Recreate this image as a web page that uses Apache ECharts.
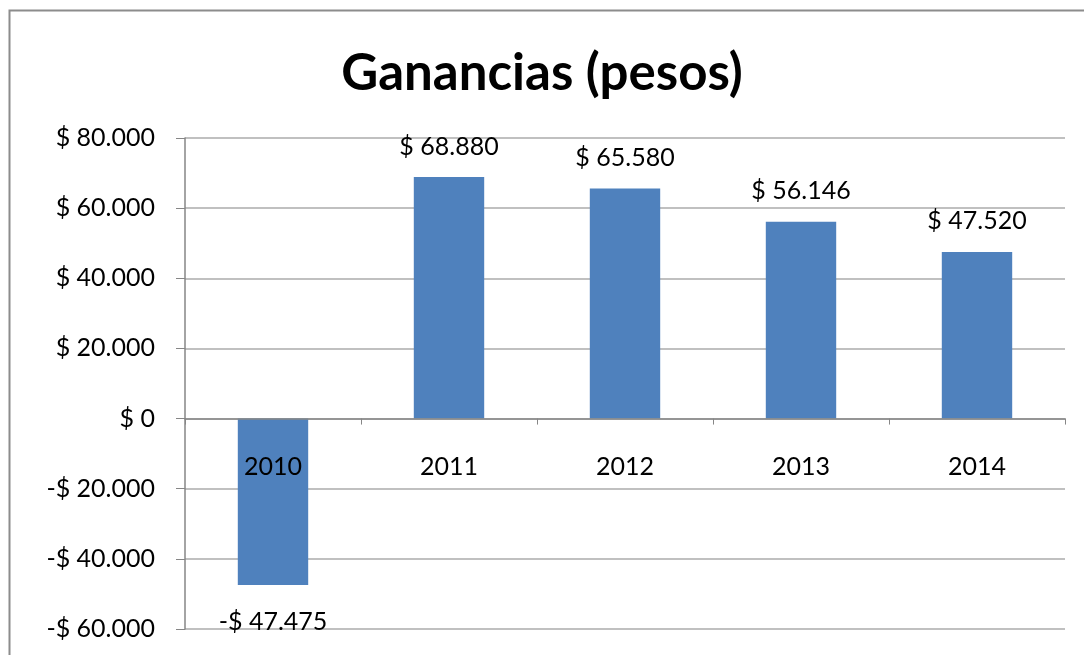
<!DOCTYPE html>
<html>
<head>
<meta charset="utf-8">
<script src="https://cdn.jsdelivr.net/npm/echarts@6/dist/echarts.min.js"></script>
<style>
  html, body { margin: 0; padding: 0; background: #fff; }
  #chart { width: 1084px; height: 655px; }
</style>
</head>
<body>
<div id="chart"></div>
<script>
// Ganancias anuales (pesos)
const years = ["2010", "2011", "2012", "2013", "2014"];
const ganancias = [-47475, 68880, 65580, 56146, 47520];

const Y_MIN = -60000;
const Y_MAX = 80000;
const Y_STEP = 20000;

const FONT = "Lato, 'Noto Sans', sans-serif";

// 68880 -> "$ 68.880", -47475 -> "-$ 47.475"
function pesos(v) {
  const abs = Math.abs(v).toString().replace(/\B(?=(\d{3})+(?!\d))/g, ".");
  return (v < 0 ? "-$ " : "$ ") + abs;
}

const GRID = { left: 185, right: 19, top: 138, bottom: 26 };
const plotH = 655 - GRID.top - GRID.bottom;
// distance of the zero line above the plot bottom
const zeroOffset = plotH * (0 - Y_MIN) / (Y_MAX - Y_MIN);

const chart = echarts.init(document.getElementById("chart"));

chart.setOption({
  animation: false,
  backgroundColor: "#fff",
  title: {
    text: "Ganancias (pesos)",
    left: "center",
    top: 43,
    textStyle: { fontFamily: FONT, fontSize: 51, fontWeight: "bold", color: "#000" }
  },
  graphic: [
    {
      type: "rect",
      shape: { x: 9.5, y: 10.5, width: 1100, height: 700 },
      style: { fill: "none", stroke: "#8c8c8c", lineWidth: 2 },
      silent: true
    }
  ],
  grid: Object.assign({ outerBoundsMode: "none", containLabel: false }, GRID),
  xAxis: {
    type: "category",
    data: years,
    z: 5,
    position: "bottom",
    offset: -zeroOffset,
    axisLine: { onZero: false, lineStyle: { color: "#868686", width: 1.5 } },
    axisTick: { show: true, length: 6, lineStyle: { color: "#868686" } },
    axisLabel: { margin: 36, fontFamily: FONT, fontSize: 25, color: "#000" }
  },
  yAxis: {
    type: "value",
    min: Y_MIN,
    max: Y_MAX,
    interval: Y_STEP,
    axisLine: { show: true, lineStyle: { color: "#868686", width: 1.5 } },
    axisTick: { show: true, length: 9, lineStyle: { color: "#868686" } },
    splitLine: { lineStyle: { color: "#c0c0c0", width: 2 } },
    axisLabel: {
      margin: 30,
      fontFamily: FONT,
      fontSize: 25,
      color: "#000",
      formatter: v => (v === 0 ? "$ 0" : pesos(v))
    }
  },
  series: [
    {
      type: "bar",
      barWidth: "40%",
      itemStyle: { color: "#4f81bd" },
      data: ganancias.map(v => ({
        value: v,
        label: v < 0 ? { position: "bottom", distance: 24 } : { position: "top", distance: 18 }
      })),
      label: {
        show: true,
        fontFamily: FONT,
        fontSize: 25,
        color: "#000",
        formatter: p => pesos(p.value)
      }
    }
  ]
});
</script>
</body>
</html>
